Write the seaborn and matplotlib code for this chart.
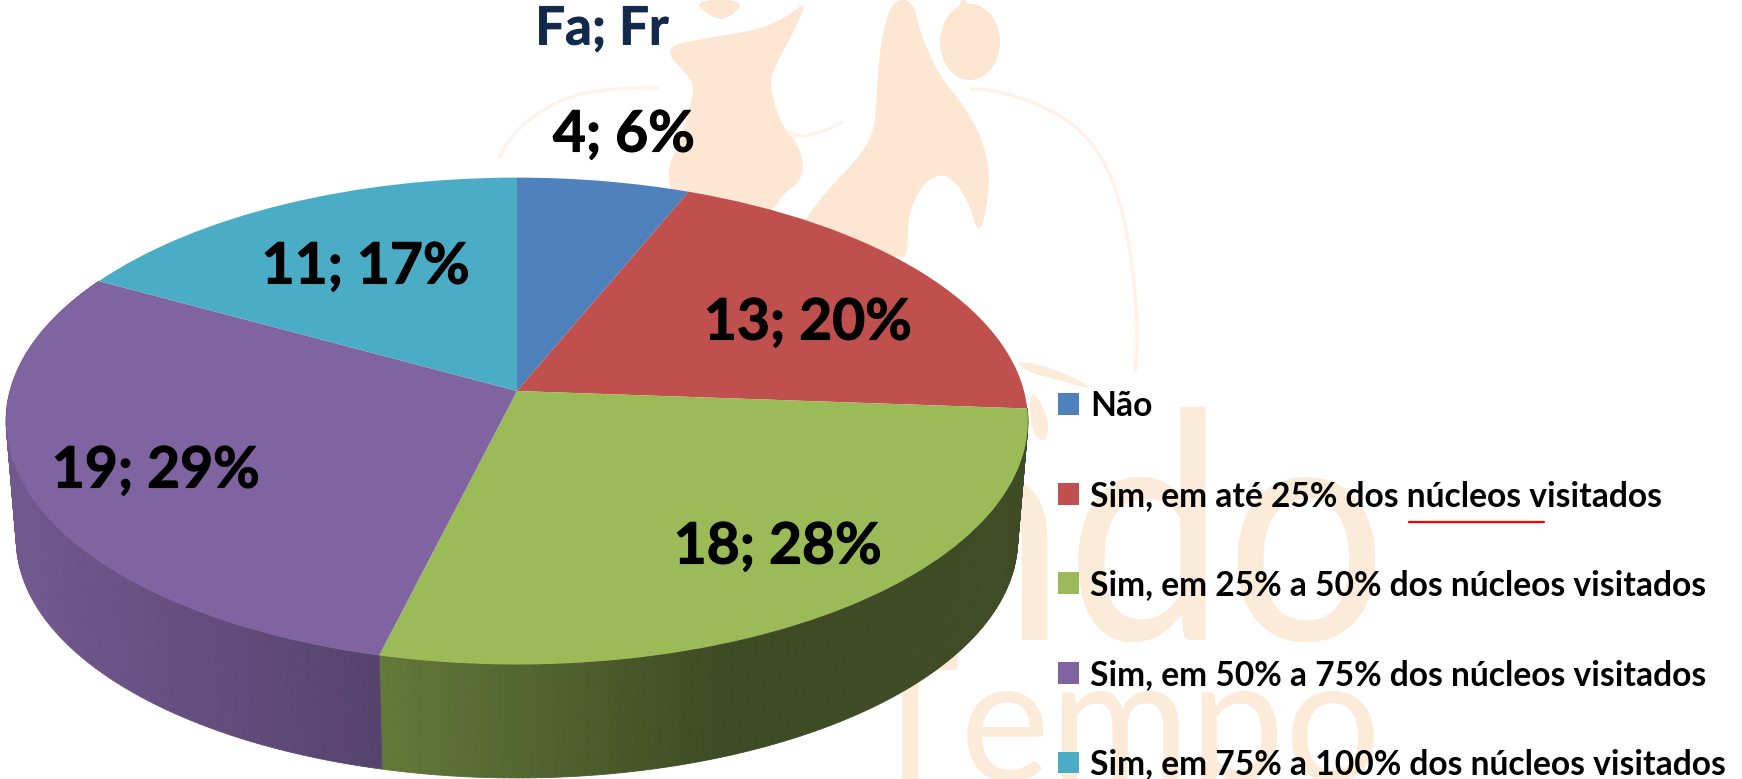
# -*- coding: utf-8 -*-
import numpy as np
import seaborn as sns
from matplotlib import pyplot as plt
from matplotlib.collections import PolyCollection
from matplotlib.patches import Ellipse
from matplotlib.patheffects import AbstractPathEffect, withStroke
from matplotlib.transforms import Affine2D, Transform

categories = ['Não',
              'Sim, em até 25% dos núcleos visitados',
              'Sim, em 25% a 50% dos núcleos visitados',
              'Sim, em 50% a 75% dos núcleos visitados',
              'Sim, em 75% a 100% dos núcleos visitados']
counts = [4, 13, 18, 19, 11]
label_pos = [(624, 135), (808, 323), (778, 547), (156, 471), (366, 267)]
colors = sns.color_palette(['#4F81BD', '#C0504D', '#9BBB59', '#8064A2', '#4BACC6'])

# perspective of the pie, in pixels
CX, CY, A, B, K = 517, 391, 507, 239.7, 0.1233
BASE_S, BASE_DY = 0.98, 119
WM = '#FDE6D2'
WM_TEXT = '#FDEBDA'
WM_LINE = '#FDF3EA'

# logo outlines as (x, y) pixels
body_left = [(660, 47), (713, 37), (757, 30), (787, 17), (808, 0), (793, 33), (773, 70), (770, 87),
             (780, 123), (800, 147), (805, 177), (780, 197), (773, 213), (680, 213), (665, 173),
             (680, 143), (693, 97), (693, 80)]
head_left = [(693, 0), (710, 17), (727, 20), (747, 0)]
body_right = [(893, 0), (882, 33), (877, 83), (875, 127), (863, 153), (830, 187), (810, 213), (800, 227),
              (900, 260), (908, 253), (908, 213), (925, 180), (947, 173), (967, 197), (979, 237),
              (987, 207), (990, 170), (980, 133), (960, 100), (940, 77), (920, 33), (913, 0)]
swoosh_top = [(1013, 360), (1055, 368), (1100, 392), (1055, 379), (1030, 373)]
swoosh_low = [(1030, 385), (1050, 420), (1045, 445), (1030, 430)]
arc_left = [(490, 177), (513, 130), (563, 97), (613, 88), (693, 88)]
arc_right = [(950, 88), (1000, 90), (1060, 113), (1097, 147), (1120, 197), (1133, 267), (1138, 333), (1133, 400)]
link = [(780, 123), (802, 142), (873, 107)]


def project(u, v):
    w = 1 + K * v
    return CX + A * u / w, CY - B * v / w


def smooth(points, closed=True, passes=3):
    # corner cutting, the logo has no hard corners
    p = np.array(points, dtype=float)
    for _ in range(passes):
        q = np.roll(p, -1, axis=0) if closed else p[1:]
        a = p if closed else p[:-1]
        p = np.column_stack([0.75 * a + 0.25 * q, 0.25 * a + 0.75 * q]).reshape(-1, 2)
    return p


class Perspective(Transform):
    input_dims = output_dims = 2

    def transform_non_affine(self, xy):
        xy = np.asarray(xy, dtype=float)
        x, y = project(xy[:, 0], xy[:, 1])
        return np.column_stack([x, y])


class SqueezeX(AbstractPathEffect):
    # the logo lettering is narrower than the font
    def __init__(self, sx):
        super().__init__()
        self.sx = sx

    def draw_path(self, renderer, gc, tpath, affine, rgbFace=None):
        renderer.draw_path(gc, tpath, Affine2D().scale(self.sx, 1) + affine, rgbFace)


sns.set_theme(style='white')
plt.rcParams['font.family'] = ['Lato', 'DejaVu Sans']

fig = plt.figure(figsize=(17.42, 7.79), dpi=100)
ax = fig.add_axes([0, 0, 1, 1])

wedges, _ = ax.pie(counts, colors=colors, startangle=90, counterclock=False, radius=1,
                   wedgeprops={'linewidth': 0})
tr = Perspective() + ax.transData
for w in wedges:
    w.set_transform(tr)
    w.set_zorder(5)

# side wall, strip by strip
shades = {2: ([380, 720], [0.645, 0.40]), 3: ([16, 380], [0.88, 0.67])}
for i, (xp, fp) in shades.items():
    w = wedges[i]
    t = np.radians(np.linspace(w.theta1, w.theta2, 160))
    x, y = project(np.cos(t), np.sin(t))
    xb = CX + (x - CX) * BASE_S
    yb = CY + (y - CY) * BASE_S + BASE_DY
    polys, cols = [], []
    for j in range(len(t) - 1):
        polys.append([(x[j], y[j]), (x[j + 1], y[j + 1]), (xb[j + 1], yb[j + 1]), (xb[j], yb[j])])
        s = np.interp((x[j] + x[j + 1]) / 2, xp, fp)
        cols.append(tuple(c * s for c in colors[i]))
    ax.add_collection(PolyCollection(polys, facecolors=cols, edgecolors=cols, linewidths=0.6, zorder=4))

# watermark logo behind the chart
ax.add_patch(Ellipse((970, 42), 60, 76, color=WM, lw=0, zorder=1))
ax.fill([955, 963, 975], [20, -5, 20], color=WM, lw=0, zorder=1)
for shape in (body_left, head_left, body_right):
    pts = smooth(shape)
    ax.fill(pts[:, 0], pts[:, 1], color=WM, lw=0, zorder=1)
for shape in (swoosh_top, swoosh_low):
    pts = smooth(shape)
    ax.fill(pts[:, 0], pts[:, 1], color=WM_TEXT, lw=0, zorder=1)
for line in (arc_left, arc_right, link):
    pts = smooth(line, closed=False)
    ax.plot(pts[:, 0], pts[:, 1], color=WM_LINE, lw=2.5, zorder=1)
ax.text(907, 640, 'ndo', fontsize=228, color=WM_TEXT, ha='left', va='baseline', zorder=1,
        path_effects=[SqueezeX(0.9)])
ax.text(860, 781, 'Tempo', fontsize=126, color=WM_TEXT, ha='left', va='baseline', zorder=1,
        path_effects=[SqueezeX(0.97)])

ax.text(602, 29, 'Fa; Fr', fontsize=38, fontweight='bold', color='#12294B',
        ha='center', va='center', zorder=8,
        path_effects=[withStroke(linewidth=0.6, foreground='#12294B')])

total = sum(counts)
for c, (lx, ly) in zip(counts, label_pos):
    ax.text(lx, ly, f'{c}; {round(100 * c / total)}%', fontsize=41, fontweight='bold',
            color='black', ha='center', va='center', zorder=8,
            path_effects=[withStroke(linewidth=0.8, foreground='black')])

leg = ax.legend(wedges, categories, loc='upper left', bbox_to_anchor=(1058, 390),
                bbox_transform=ax.transData, frameon=False, borderpad=0, borderaxespad=0,
                handlelength=0.62, handleheight=0.62, handletextpad=0.33,
                labelspacing=1.71, prop={'family': 'Lato', 'weight': 'bold', 'size': 24.25})
leg.set_zorder(8)
for txt in leg.get_texts():
    txt.set_color('black')

# spell check squiggle
ax.plot([1409, 1544], [522, 522], color='#FF0000', lw=1.6, zorder=8)

ax.set_aspect('auto')
ax.set_xlim(0, 1742)
ax.set_ylim(779, 0)
ax.axis('off')
fig.savefig('out.png', dpi=100, facecolor='white')
